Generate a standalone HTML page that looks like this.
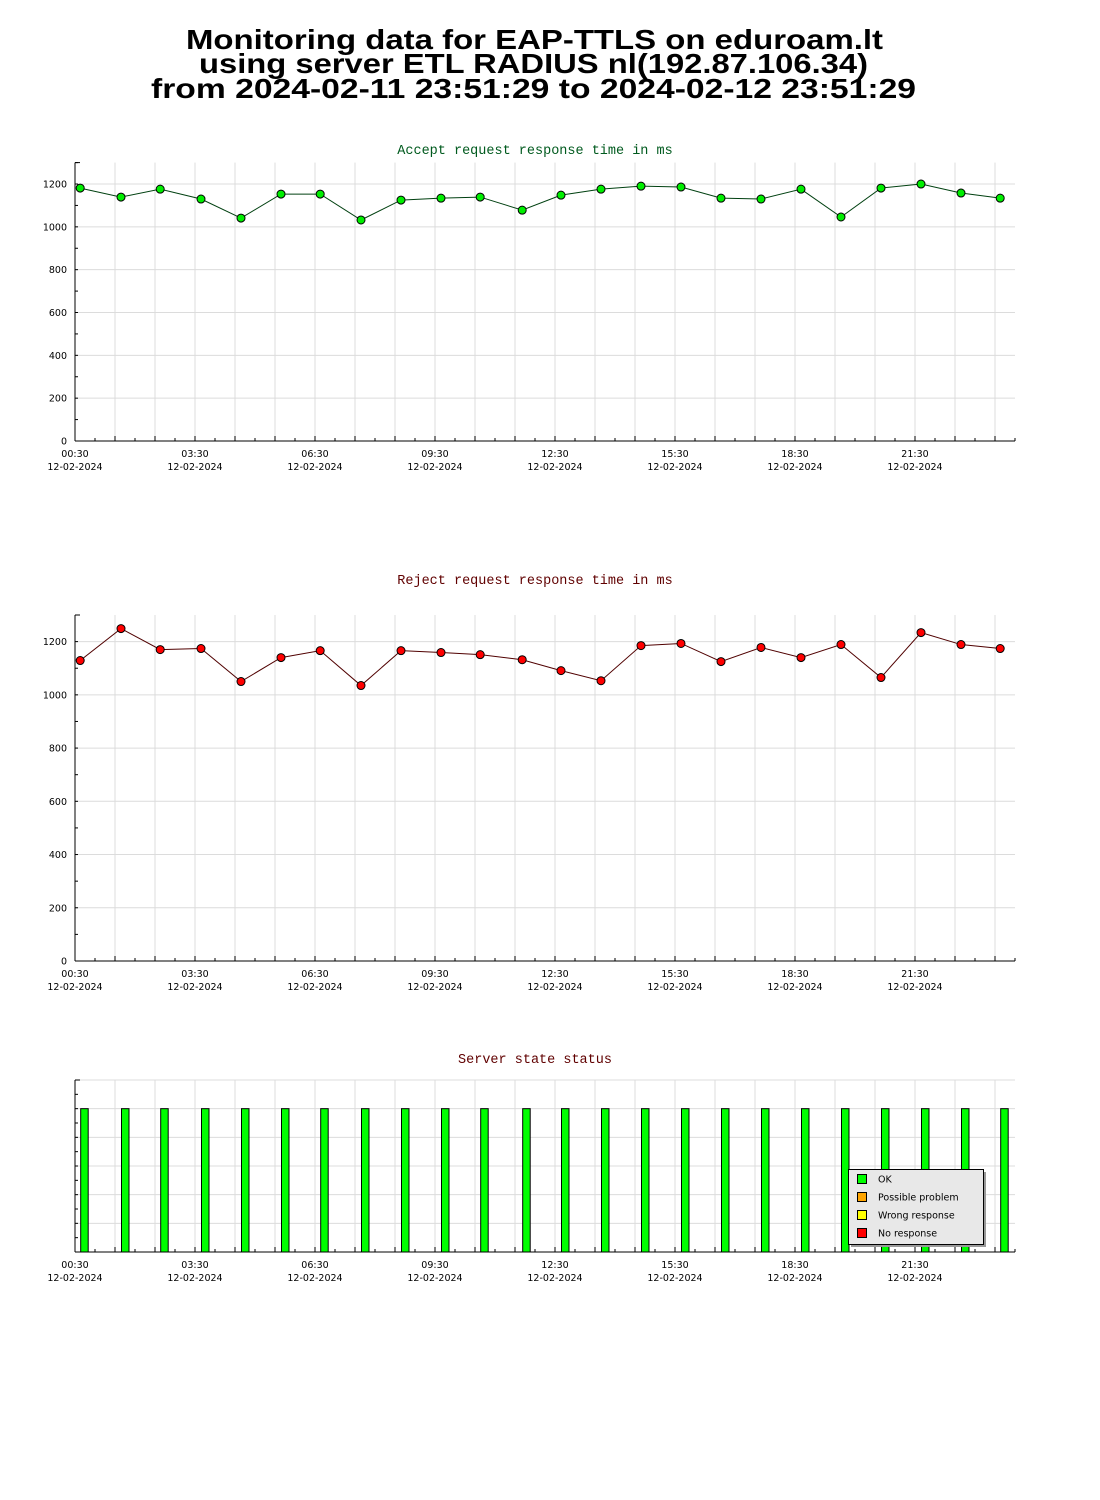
<!DOCTYPE html>
<html><head><meta charset="utf-8"><style>
body{margin:0;background:#fff}
svg{display:block}
text{font-family:"DejaVu Sans","Liberation Sans",sans-serif}
.t{font-family:"Liberation Sans",sans-serif;font-weight:bold;font-size:28px}
.ct{font-family:"Liberation Mono",monospace;font-size:13.5px}
.tk{font-size:9.5px;fill:#000}
</style></head><body>
<svg id="s" width="1100" height="1500" xmlns="http://www.w3.org/2000/svg">
<text class="t" x="186" y="49" textLength="697" lengthAdjust="spacingAndGlyphs">Monitoring data for EAP-TTLS on eduroam.lt</text>
<text class="t" x="199" y="73" textLength="669" lengthAdjust="spacingAndGlyphs">using server ETL RADIUS nl(192.87.106.34)</text>
<text class="t" x="151" y="98" textLength="765" lengthAdjust="spacingAndGlyphs">from 2024-02-11 23:51:29 to 2024-02-12 23:51:29</text>
<g id="c1"></g>
<g id="c2"></g>
<g id="c3"></g>
</svg>
<script>
const times=[0.63,1.65,2.63,3.65,4.65,5.65,6.63,7.65,8.65,9.65,10.63,11.68,12.65,13.65,14.65,15.65,16.65,17.65,18.65,19.65,20.65,21.65,22.65,23.63];
const acceptValues=[1181,1139,1176,1130,1041,1153,1153,1032,1125,1134,1139,1078,1148,1176,1190,1186,1134,1130,1176,1046,1181,1200,1158,1134];
const rejectValues=[1129,1249,1170,1174,1050,1140,1166,1035,1166,1159,1151,1132,1091,1053,1185,1193,1125,1178,1140,1189,1065,1234,1189,1174];
const statusValues=[1,1,1,1,1,1,1,1,1,1,1,1,1,1,1,1,1,1,1,1,1,1,1,1];
const yTicks=[0,200,400,600,800,1000,1200];
const xTickLabels=["00:30","03:30","06:30","09:30","12:30","15:30","18:30","21:30"];
const xTickHours=[0.5,3.5,6.5,9.5,12.5,15.5,18.5,21.5];
const legendLabels=["OK","Possible problem","Wrong response","No response"];
const legendColors=["#00ff00","#ffa500","#ffff00","#ff0000"];
const NS="http://www.w3.org/2000/svg";
const X0=75,X1=1015,H0=0.5,PXH=40;
const xs=h=>X0+(h-H0)*PXH;
function el(p,tag,a,txt){const e=document.createElementNS(NS,tag);for(const k in a)e.setAttribute(k,a[k]);if(txt!=null)e.textContent=txt;p.appendChild(e);return e;}
function frame(g,top,bot,ys,maxV,yt,minor){
  for(let h=0.5;h<=24;h+=1){const x=xs(h);const l=el(g,'line',{x1:x,x2:x,y1:top,y2:bot,stroke:'#dcdcdc'});}
  yt.forEach(v=>{const y=ys(v);const l=el(g,'line',{x1:X0,x2:X1,y1:y,y2:y,stroke:'#dcdcdc'});});
  el(g,'line',{x1:X0,x2:X0,y1:top,y2:bot,stroke:'#000'});
  el(g,'line',{x1:X0,x2:X1,y1:bot,y2:bot,stroke:'#000'});
  for(let h=0.5;h<=24.01;h+=0.5){const x=xs(h);el(g,'line',{x1:x,x2:x,y1:bot,y2:bot-((h*2)%2==1?5:3),stroke:'#000'});}
  minor.forEach(v=>{const y=ys(v);el(g,'line',{x1:X0,x2:X0+3,y1:y,y2:y,stroke:'#000'});});
  el(g,'line',{x1:X0,x2:X0+5,y1:top,y2:top,stroke:'#000'});
  xTickHours.forEach((h,i)=>{const x=xs(h);
    const t1=el(g,'text',{x:x,y:bot+16,'text-anchor':'middle',class:'tk'},xTickLabels[i]);
    const t2=el(g,'text',{x:x,y:bot+29,'text-anchor':'middle',class:'tk'},'12-02-2024');});
}
function lineChart(g,top,bot,vals,title,tcol,lcol,fill,ty){
  const maxV=1300,ys=v=>bot-(v/maxV)*(bot-top);
  const t=el(g,'text',{x:535,y:ty,'text-anchor':'middle',class:'ct',fill:tcol},title);
  const minor=[];for(let v=100;v<=1300;v+=100)minor.push(v);
  frame(g,top,bot,ys,maxV,yTicks,minor);
  yTicks.forEach(v=>{const tt=el(g,'text',{x:X0-8,y:ys(v)+3.5,'text-anchor':'end',class:'tk'},String(v));});
  const pts=times.map((h,i)=>xs(h)+','+ys(vals[i])).join(' ');
  const pl=el(g,'polyline',{points:pts,fill:'none',stroke:lcol,'stroke-width':1});
  times.forEach((h,i)=>{const c=el(g,'circle',{cx:xs(h),cy:ys(vals[i]),r:4,fill:fill,stroke:'#000','stroke-width':1});});
}
lineChart(document.getElementById('c1'),162.6,441,acceptValues,'Accept request response time in ms','#005a1e','#004010','#00ee00',154);
lineChart(document.getElementById('c2'),615,961,rejectValues,'Reject request response time in ms','#600000','#500000','#ff0000',584);
(function(){
  const g=document.getElementById('c3'),top=1080,bot=1252,maxV=1.2,ys=v=>bot-(v/maxV)*(bot-top);
  const t=el(g,'text',{x:535,y:1063,'text-anchor':'middle',class:'ct',fill:'#600000'},'Server state status');
  const grid=[0.2,0.4,0.6,0.8,1.0,1.2],minor=[0.1,0.2,0.3,0.4,0.5,0.6,0.7,0.8,0.9,1.0,1.1];
  frame(g,top,bot,ys,maxV,grid,minor);
  times.forEach((h,i)=>{const y=ys(statusValues[i]);const r=el(g,'rect',{x:xs(h)+0.5,y:y,width:7.5,height:bot-y,fill:'#00ff00',stroke:'#000','stroke-width':1});});
  const lg=el(g,'g',{});
  el(lg,'rect',{x:851,y:1172,width:135,height:75,fill:'#999'});
  el(lg,'rect',{x:848.5,y:1169.5,width:135,height:75,fill:'#e8e8e8',stroke:'#000'});
  legendLabels.forEach((lab,i)=>{const y=1179+i*18;
    const sq=el(lg,'rect',{x:857.5,y:y-4.5,width:9,height:9,fill:legendColors[i],stroke:'#000'});
    const tt=el(lg,'text',{x:878,y:y+3.5,class:'tk'},lab);});
})();
</script>
</body></html>
